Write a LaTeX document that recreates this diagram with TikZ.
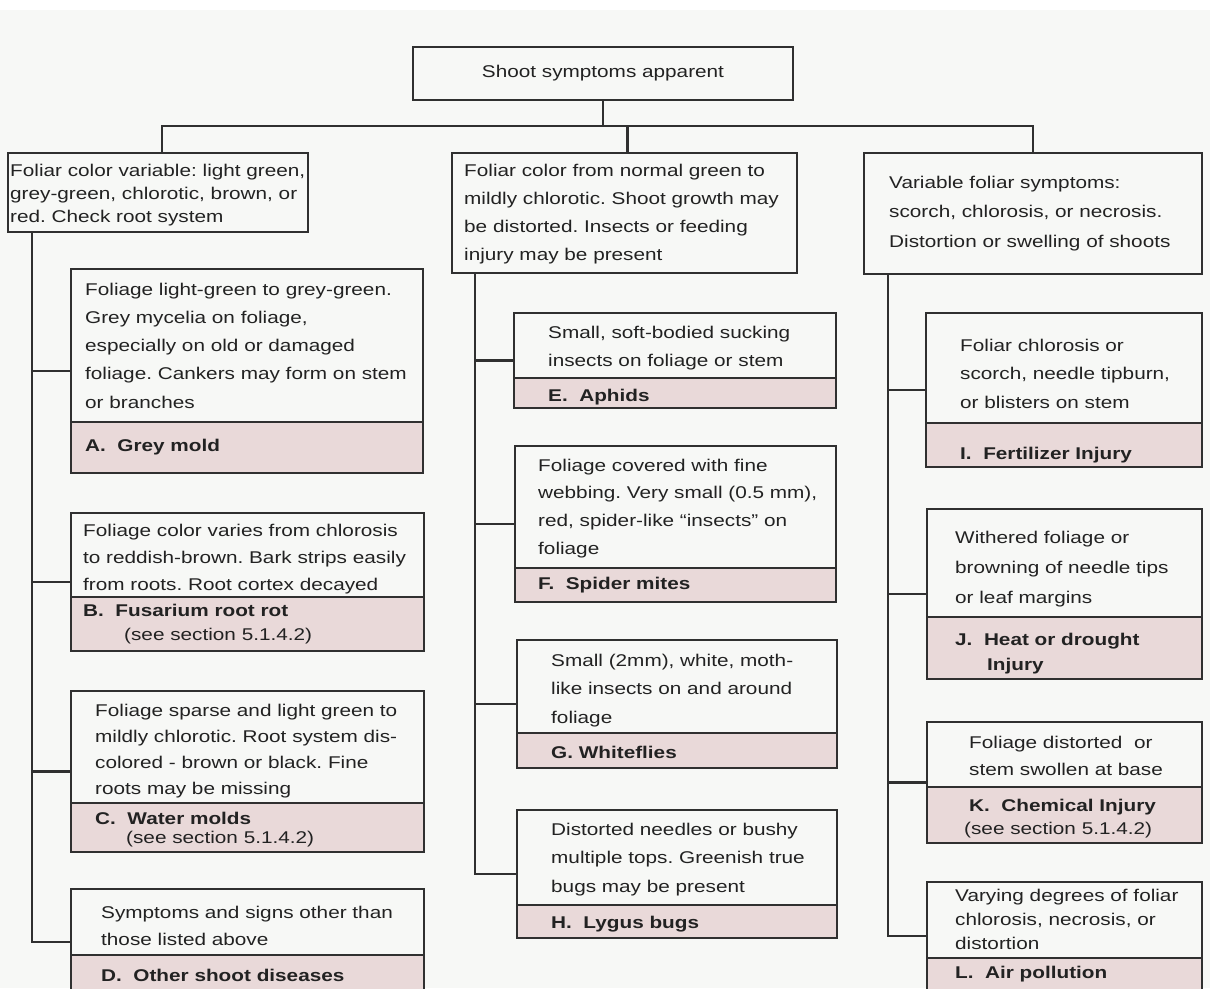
\documentclass[tikz,border=0pt]{standalone}
\usepackage{fontspec}
\setmainfont{Liberation Sans}[FakeStretch=1.22]
\frenchspacing
\definecolor{paper}{RGB}{247,248,246}
\definecolor{ink}{RGB}{34,34,34}
\definecolor{rule}{RGB}{48,48,48}
\definecolor{tag}{RGB}{233,217,217}

% one box: name, left x, top y, right x, y of the label strip, bottom y
\newcommand\symbox[6]{%
  \node[tagstrip, anchor=north west, minimum width={#4-#2}, minimum height={#6-#5}] (#1lab) at (#2,#5) {};
  \node[frame, anchor=north west, minimum width={#4-#2}, minimum height={#6-#3}] (#1) at (#2,#3) {};
}
% lines of text: name, x, first baseline, line step, {{line},{line},...}
\newcommand\para[5]{%
  \foreach \ln [count=\k] in {#5}{\node[txt] (#1-\k) at (#2,{#3+(\k-1)*#4}) {\ln};}%
}

\begin{document}
\begin{tikzpicture}[x=1pt,y=-1pt,
  frame/.style={draw=rule, line width=2.2pt, inner sep=0pt, outer sep=0pt},
  tagstrip/.style={draw=rule, fill=tag, line width=2.2pt, inner sep=0pt, outer sep=0pt},
  txt/.style={anchor=base west, inner sep=0pt, text=ink, font=\fontsize{17}{20}\selectfont},
  btxt/.style={txt, font=\fontsize{17}{20}\selectfont\bfseries},
  conn/.style={draw=rule, line width=2.2pt}]

\clip (0,0) rectangle (1210,988);
\fill[paper] (0,0) rectangle (1210,988);
\fill[white] (0,0) rectangle (1210,10);

% root
\node[frame, anchor=north west, minimum width=380, minimum height=53,
      text=ink, font=\fontsize{17}{20}\selectfont] (top) at (413,47) {Shoot symptoms apparent};

% three first-level boxes
\node[frame, anchor=north west, minimum width=300, minimum height=79] (colL) at (8,153) {};
\node[frame, anchor=north west, minimum width=345, minimum height=120] (colM) at (452,153) {};
\node[frame, anchor=north west, minimum width=338, minimum height=121] (colR) at (864,153) {};

\para{Lt}{10}{176}{23}{{Foliar color variable: light green,},{grey-green, chlorotic, brown, or},{red. Check root system}}
\para{Mt}{464}{176}{28}{{Foliar color from normal green to},{mildly chlorotic. Shoot growth may},{be distorted. Insects or feeding},{injury may be present}}
\para{Rt}{889}{188}{29.5}{{Variable foliar symptoms:},{scorch, chlorosis, or necrosis.},{Distortion or swelling of shoots}}

% left column
\symbox{A}{71}{269}{423}{422}{473}
\para{At}{85}{295}{28.25}{{Foliage light-green to grey-green.},{Grey mycelia on foliage,},{especially on old or damaged},{foliage. Cankers may form on stem},{or branches}}
\node[btxt] (Ab) at (85,451) {A.\ \ Grey mold};

\symbox{B}{71}{513}{424}{597}{651}
\para{Bt}{83}{536}{27}{{Foliage color varies from chlorosis},{to reddish-brown. Bark strips easily},{from roots. Root cortex decayed}}
\node[btxt] (Bb) at (83,616) {B.\ \ Fusarium root rot};
\node[txt] (Bs) at (124,640) {(see section 5.1.4.2)};

\symbox{C}{71}{691}{424}{803}{852}
\para{Ct}{95}{716}{26.3}{{Foliage sparse and light green to},{mildly chlorotic. Root system dis-},{colored - brown or black. Fine},{roots may be missing}}
\node[btxt] (Cb) at (95,824) {C.\ \ Water molds};
\node[txt] (Cs) at (126,843) {(see section 5.1.4.2)};

\symbox{D}{71}{889}{424}{955}{995}
\para{Dt}{101}{918}{27}{{Symptoms and signs other than},{those listed above}}
\node[btxt] (Db) at (101,981) {D.\ \ Other shoot diseases};

% middle column
\symbox{E}{514}{313}{836}{378}{408}
\para{Et}{548}{338}{28}{{Small, soft-bodied sucking},{insects on foliage or stem}}
\node[btxt] (Eb) at (548,401) {E.\ \ Aphids};

\symbox{F}{515}{446}{836}{568}{602}
\para{Ft}{538}{471}{27.7}{{Foliage covered with fine},{webbing. Very small (0.5 mm),},{red, spider-like ``insects'' on},{foliage}}
\node[btxt] (Fb) at (538,589) {F.\ \ Spider mites};

\symbox{G}{517}{640}{837}{733}{768}
\para{Gt}{551}{666}{28.5}{{Small (2mm), white, moth-},{like insects on and around},{foliage}}
\node[btxt] (Gb) at (551,758) {G. Whiteflies};

\symbox{H}{517}{810}{837}{905}{938}
\para{Ht}{551}{835}{28.5}{{Distorted needles or bushy},{multiple tops. Greenish true},{bugs may be present}}
\node[btxt] (Hb) at (551,928) {H.\ \ Lygus bugs};

% right column
\symbox{I}{926}{313}{1202}{423}{467}
\para{It}{960}{351}{28.5}{{Foliar chlorosis or},{scorch, needle tipburn,},{or blisters on stem}}
\node[btxt] (Ib) at (960,459) {I.\ \ Fertilizer Injury};

\symbox{J}{927}{509}{1202}{617}{679}
\para{Jt}{955}{543}{30}{{Withered foliage or},{browning of needle tips},{or leaf margins}}
\node[btxt] (Jb) at (955,645) {J.\ \ Heat or drought};
\node[btxt] (Jc) at (987,670) {Injury};

\symbox{K}{927}{722}{1202}{787}{843}
\para{Kt}{969}{748}{27}{{Foliage distorted\ \ or},{stem swollen at base}}
\node[btxt] (Kb) at (969,811) {K.\ \ Chemical Injury};
\node[txt] (Ks) at (964,834) {(see section 5.1.4.2)};

\symbox{L}{927}{882}{1202}{958}{990}
\para{Lx}{955}{901}{24}{{Varying degrees of foliar},{chlorosis, necrosis, or},{distortion}}
\node[btxt] (Lb) at (955,978) {L.\ \ Air pollution};

% connectors from the root
\coordinate (bus) at (0,126);
\coordinate (dropL) at ([xshift=4pt]colL.north);
\coordinate (dropM) at ([xshift=3pt]colM.north);
\draw[conn] (top.south) -- (top.south |- bus);
\draw[conn] (dropL) |- (colR.north |- bus) -- (colR.north);
\draw[conn] (dropM) -- (dropM |- bus);

% stems down each column
\coordinate (Ls) at ([xshift=24pt]colL.south west);
\coordinate (Ms) at ([xshift=23pt]colM.south west);
\coordinate (Rs) at ([xshift=24pt]colR.south west);
\draw[conn] (Ls) |- (D.west);
\draw[conn] (Ms) |- (H.west);
\draw[conn] (Rs) |- (L.west);
\foreach \b in {A,B,C} \draw[conn] (\b.west) -- (\b.west -| Ls);
\foreach \b in {E,F,G} \draw[conn] (\b.west) -- (\b.west -| Ms);
\foreach \b in {I,J,K} \draw[conn] (\b.west) -- (\b.west -| Rs);
\end{tikzpicture}
\end{document}
